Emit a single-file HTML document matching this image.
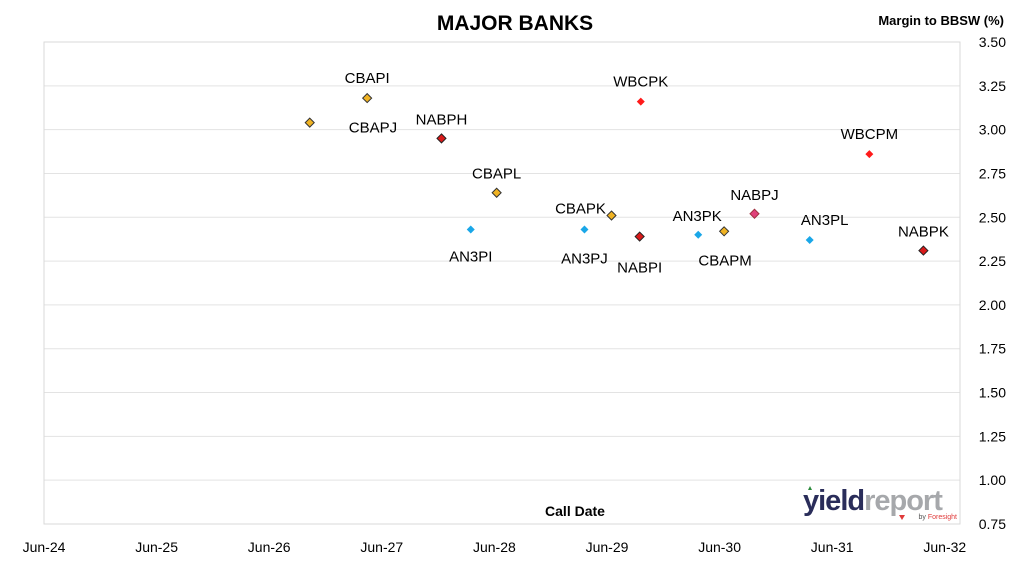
<!DOCTYPE html>
<html><head><meta charset="utf-8"><style>
body{margin:0;background:#fff;font-family:"Liberation Sans",sans-serif;}
svg text{font-family:"Liberation Sans",sans-serif;}
</style></head><body>
<svg id="c" width="1010" height="562" xmlns="http://www.w3.org/2000/svg">
<rect width="1010" height="562" fill="#fff"/>
<text x="515" y="30" text-anchor="middle" font-size="21" font-weight="bold" fill="#000">MAJOR BANKS</text>
<text x="1004" y="25" text-anchor="end" font-size="13" font-weight="bold" fill="#000">Margin to BBSW (%)</text>
<g id="grid"></g>
<rect x="44" y="42" width="916" height="482" fill="none" stroke="#d9d9d9"/>
<text x="575" y="516" text-anchor="middle" font-size="14" font-weight="bold" fill="#000">Call Date</text>
<g>
<text x="803" y="510" font-size="29" font-weight="bold" fill="#2a2d5a" letter-spacing="-1">yield<tspan fill="#a6a8ab">report</tspan></text>
<text x="957" y="519" text-anchor="end" font-size="7" fill="#555">by <tspan fill="#e03a3a">Foresight</tspan></text>
<polygon points="899,515 905,515 902,520" fill="#e03a3a"/>
<polygon points="808,490 812,490 810,486" fill="#2a8a3a"/>
</g>
<g id="marks"></g>
</svg>
<script>
const names=["CBAPJ","CBAPI","NABPH","CBAPL","AN3PI","CBAPK","AN3PJ","NABPI","WBCPK","AN3PK","CBAPM","NABPJ","AN3PL","WBCPM","NABPK"];
const callDates=[2026.86,2027.37,2028.03,2028.52,2028.29,2029.54,2029.30,2029.79,2029.80,2030.31,2030.54,2030.81,2031.30,2031.83,2032.31];
const margins=[3.04,3.18,2.95,2.64,2.43,2.51,2.43,2.39,3.16,2.40,2.42,2.52,2.37,2.86,2.31];
const yTicks=[0.75,1.00,1.25,1.50,1.75,2.00,2.25,2.50,2.75,3.00,3.25,3.50];
const xTickLabels=["Jun-24","Jun-25","Jun-26","Jun-27","Jun-28","Jun-29","Jun-30","Jun-31","Jun-32"];
const xTickVals=[2024.5,2025.5,2026.5,2027.5,2028.5,2029.5,2030.5,2031.5,2032.5];
const labelPos=[[39,5,"start"],[0,-20,"middle"],[0,-19,"middle"],[0,-19,"middle"],[0,27,"middle"],[-31,-7,"middle"],[0,29,"middle"],[0,31,"middle"],[0,-20,"middle"],[-1,-19,"middle"],[1,29,"middle"],[0,-19,"middle"],[15,-20,"middle"],[0,-20,"middle"],[0,-19,"middle"]];
const NS="http://www.w3.org/2000/svg";
const x=t=>44+(t-2024.5)*112.6;
const y=v=>524-(v-0.75)*(482/2.75);
const grid=document.getElementById('grid'),marks=document.getElementById('marks'),svg=document.getElementById('c');
yTicks.forEach(v=>{
 const l=document.createElementNS(NS,'line');
 l.setAttribute('x1',44);l.setAttribute('x2',960);l.setAttribute('y1',y(v));l.setAttribute('y2',y(v));
 l.setAttribute('stroke','#e3e3e3');
 
 
 grid.appendChild(l);
 const t=document.createElementNS(NS,'text');
 t.setAttribute('x',1006);t.setAttribute('y',y(v)+5);t.setAttribute('text-anchor','end');t.setAttribute('font-size','14');
 t.textContent=v.toFixed(2);
 
 
 svg.appendChild(t);
});
xTickLabels.forEach((s,i)=>{
 const t=document.createElementNS(NS,'text');
 t.setAttribute('x',x(xTickVals[i]));t.setAttribute('y',552);t.setAttribute('text-anchor','middle');t.setAttribute('font-size','14');
 t.textContent=s;
 
 
 svg.appendChild(t);
});
function style(n){
 if(n.startsWith('CBA'))return ['#f0b323','#333',1];
 if(n==='NABPJ')return ['#e0407a','#a03040',1];
 if(n.startsWith('NAB'))return ['#d91a1a','#222',1];
 if(n.startsWith('WBC'))return ['#ff1a1a','none',0];
 return ['#1aa7e8','none',0];
}
names.forEach((n,i)=>{
 const cx=x(callDates[i]),cy=y(margins[i]);
 const [f,s,w]=style(n);const r=w?4.5:4;
 const p=document.createElementNS(NS,'polygon');
 p.setAttribute('points',`${cx},${cy-r} ${cx+r},${cy} ${cx},${cy+r} ${cx-r},${cy}`);
 p.setAttribute('fill',f);p.setAttribute('stroke',s);p.setAttribute('stroke-width',w);
 
 
 marks.appendChild(p);
 const t=document.createElementNS(NS,'text');
 const lp=labelPos[i];
 t.setAttribute('x',cx+lp[0]);t.setAttribute('y',cy+lp[1]+5);t.setAttribute('text-anchor',lp[2]);t.setAttribute('font-size','15');
 t.textContent=n;
 
 
 marks.appendChild(t);
});
</script>
</body></html>
